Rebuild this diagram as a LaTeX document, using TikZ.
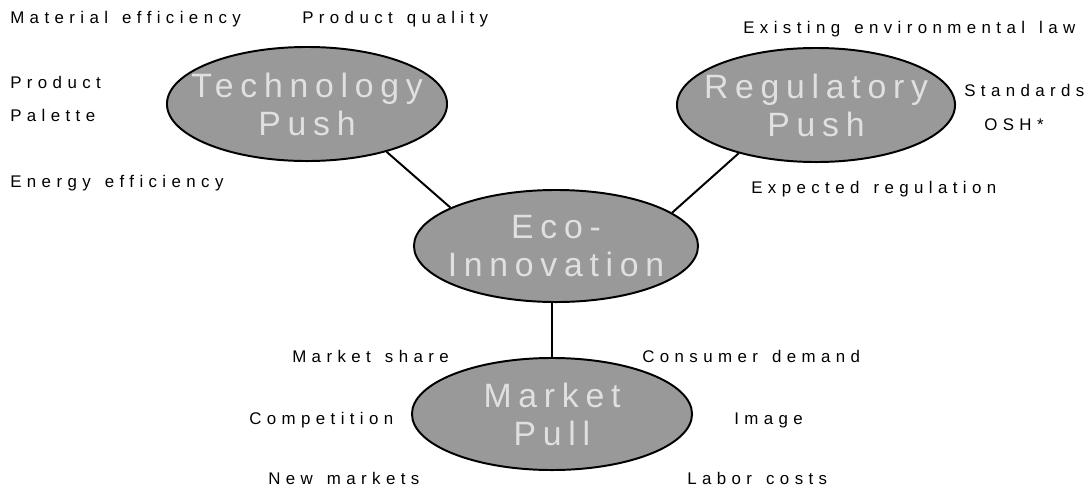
\documentclass[tikz,border=0pt]{standalone}
\usepackage{fontspec}
\setmainfont{Liberation Sans}
\newfontfamily\lblfont[LetterSpace=32, WordSpace=1.4]{Liberation Sans}
\newfontfamily\bubfont[LetterSpace=20]{Liberation Sans}
\usetikzlibrary{shapes}

\begin{document}
\begin{tikzpicture}[x=0.025cm, y=-0.025cm,
    bubble/.style={ellipse, draw=black, line width=1.4pt, fill=black!40, inner sep=0pt},
    bubtxt/.style={align=center, inner sep=0pt, text=black!12, font=\bubfont\fontsize{24}{27}\selectfont},
    lbl/.style={anchor=base west, inner sep=0pt, font=\lblfont\fontsize{12}{14}\selectfont}]
    \useasboundingbox (0,0) rectangle (1092,488);
    % Ellipses
    \node[bubble, minimum width=7cm, minimum height=2.85cm] (tech) at (307,104) {};
    \node[bubble, minimum width=6.95cm, minimum height=2.85cm] (reg) at (816,105) {};
    \node[bubble, minimum width=7.1cm, minimum height=2.8cm] (eco) at (556,246) {};
    \node[bubble, minimum width=7cm, minimum height=2.8cm] (mkt) at (552,414) {};
    \node[bubtxt] (techTxt) at (tech) {Technology\\Push};
    \node[bubtxt] (regTxt) at (reg) {Regulatory\\Push};
    \node[bubtxt] (ecoTxt) at (eco) {Eco-\\Innovation};
    \node[bubtxt] (mktTxt) at (mkt) {Market\\Pull};
    % Connecting lines
    \draw[line width=1.4pt] (tech.-31) -- (eco.160);
    \draw[line width=1.4pt] (reg.212) -- (eco.16);
    \draw[line width=1.4pt] (mkt.north) -- (mkt.north |- eco.south);
    % Labels
    \foreach \n/\x/\y/\t in {matEff/10/23/Material efficiency, prodQual/302/23/Product quality,
        product/10/88/Product, palette/10/121/Palette, energyEff/10/187/Energy efficiency,
        envLaw/743/33/Existing environmental law, standards/964/96/Standards, osh/984/130/OSH*,
        expReg/751/193/Expected regulation, mktShare/292/362/Market share,
        consDemand/642/362/Consumer demand, competition/249/424/Competition,
        image/734/424/Image, newMkts/268/484/New markets, laborCosts/687/484/Labor costs}
        \node[lbl] (\n) at (\x,\y) {\t};
\end{tikzpicture}
\end{document}
